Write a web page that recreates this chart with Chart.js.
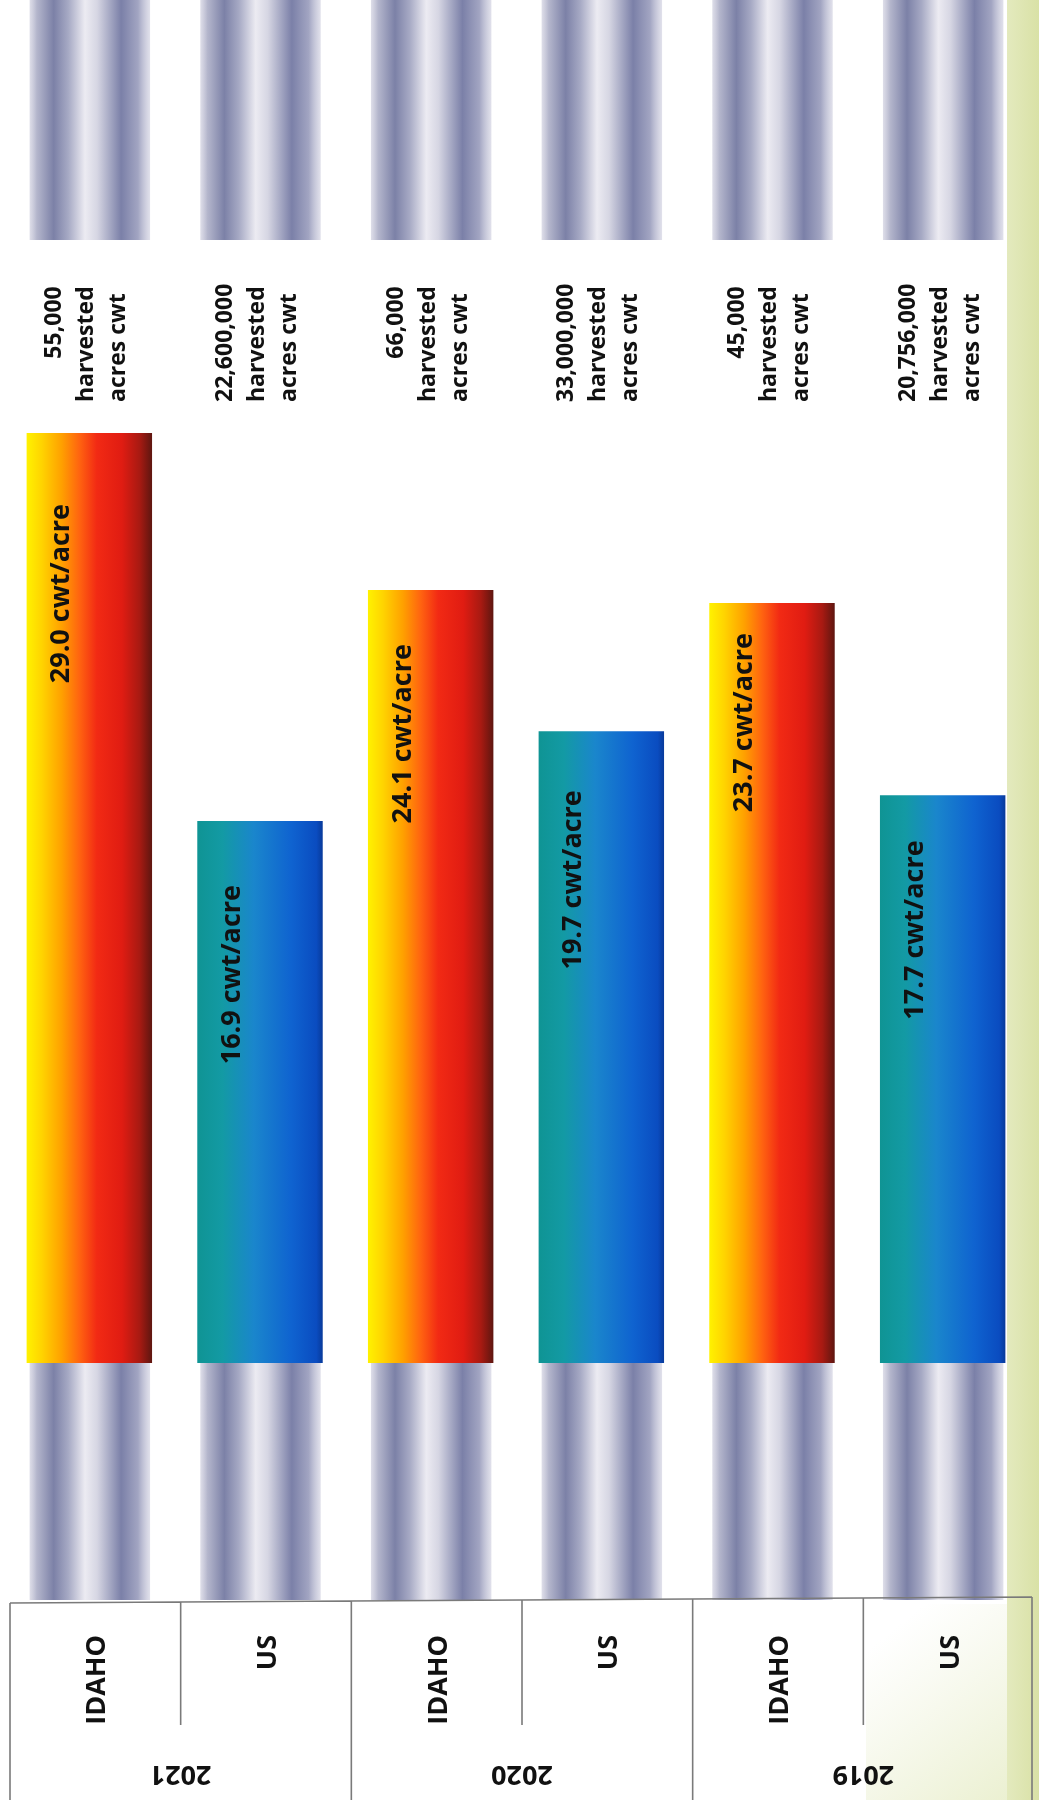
<!DOCTYPE html>
<html>
<head>
<meta charset="utf-8">
<script src="https://cdn.jsdelivr.net/npm/chart.js@4.4.1/dist/chart.umd.min.js"></script>
<style>
  html, body { margin: 0; padding: 0; background: #ffffff; }
  #wrap { width: 1039px; height: 1800px; position: relative; }
</style>
</head>
<body>
<div id="wrap"><canvas id="c" width="1039" height="1800"></canvas></div>
<script>
// ---- data ----
const regions = ['IDAHO', 'US', 'IDAHO', 'US', 'IDAHO', 'US'];
const years = ['2021', '2021', '2020', '2020', '2019', '2019'];
const yieldCwtPerAcre = [29.0, 16.9, 24.1, 19.7, 23.7, 17.7];
const harvestedFigures = ['55,000', '22,600,000', '66,000', '33,000,000', '45,000', '20,756,000'];
const harvestedWords = ['harvested', 'acres cwt'];
const yearGroups = ['2021', '2020', '2019'];

// ---- layout / style (not data) ----
const labelOffsets = [71, 64, 54, 59, 30, 45];
const FONT = '"Open Sans", "Liberation Sans", Arial, sans-serif';

function barGradient(ctx, left, right, isIdaho) {
  const g = ctx.createLinearGradient(left, 0, right, 0);
  if (isIdaho) {
    g.addColorStop(0.00, '#fff200');
    g.addColorStop(0.12, '#ffd400');
    g.addColorStop(0.28, '#ffa000');
    g.addColorStop(0.42, '#ff6410');
    g.addColorStop(0.56, '#f22a14');
    g.addColorStop(0.76, '#e01c12');
    g.addColorStop(0.90, '#a81a12');
    g.addColorStop(1.00, '#5e1610');
  } else {
    g.addColorStop(0.00, '#0f9494');
    g.addColorStop(0.20, '#139aa4');
    g.addColorStop(0.45, '#1a86cc');
    g.addColorStop(0.75, '#0f63d0');
    g.addColorStop(0.95, '#0a4cc0');
    g.addColorStop(1.00, '#083a9a');
  }
  return g;
}

function pipeGradient(ctx, left, right) {
  const g = ctx.createLinearGradient(left, 0, right, 0);
  g.addColorStop(0.00, 'rgba(200,200,218,0.6)');
  g.addColorStop(0.06, '#b4b6cc');
  g.addColorStop(0.20, '#7c81a7');
  g.addColorStop(0.32, '#a6a9c4');
  g.addColorStop(0.46, '#ecebf2');
  g.addColorStop(0.56, '#d6d6e3');
  g.addColorStop(0.76, '#7b80a8');
  g.addColorStop(0.90, '#a2a5c2');
  g.addColorStop(1.00, 'rgba(205,205,222,0.6)');
  return g;
}

const decoPlugin = {
  id: 'deco',
  beforeDraw(chart) {
    const ctx = chart.ctx;
    ctx.save();
    ctx.fillStyle = '#ffffff';
    ctx.fillRect(0, 0, chart.width, chart.height);
    // green page edge
    const gg = ctx.createLinearGradient(1005, 0, 1039, 0);
    gg.addColorStop(0, '#e4eabf');
    gg.addColorStop(1, '#d9e1a6');
    ctx.fillStyle = gg;
    ctx.fillRect(1007, 0, 32, chart.height);
    // greenish tint in bottom-right cell
    const gt = ctx.createLinearGradient(880, 1640, 1010, 1800);
    gt.addColorStop(0, 'rgba(225,232,190,0)');
    gt.addColorStop(1, 'rgba(222,230,178,0.6)');
    ctx.fillStyle = gt;
    ctx.fillRect(866, 1604, 141, 196);
    ctx.restore();
  },
  beforeDatasetsDraw(chart) {
    const ctx = chart.ctx;
    const meta = chart.getDatasetMeta(0);
    const area = chart.chartArea;
    ctx.save();
    meta.data.forEach((el) => {
      const l = el.x - el.width / 2 + 3;
      const r = el.x + el.width / 2 - 2;
      ctx.fillStyle = pipeGradient(ctx, l, r);
      ctx.fillRect(l, 0, r - l, 240);
      ctx.fillRect(l, area.bottom, r - l, 1600 - area.bottom);
    });
    ctx.restore();
  },
  afterDatasetsDraw(chart) {
    const ctx = chart.ctx;
    const meta = chart.getDatasetMeta(0);
    ctx.save();
    ctx.fillStyle = '#111111';
    meta.data.forEach((el, i) => {
      // value label inside bar
      ctx.save();
      ctx.font = 'bold 27px ' + FONT;
      ctx.translate(el.x - 20, el.y + labelOffsets[i]);
      ctx.rotate(-Math.PI / 2);
      ctx.textAlign = 'right';
      ctx.textBaseline = 'alphabetic';
      ctx.fillText(yieldCwtPerAcre[i].toFixed(1) + ' cwt/acre', 0, 0);
      ctx.restore();

      // harvested labels above bar
      ctx.font = 'bold 23px ' + FONT;
      const lines = [harvestedFigures[i]].concat(harvestedWords);
      const start = 402;
      const wHarv = ctx.measureText(harvestedWords[0]).width;
      lines.forEach((txt, k) => {
        ctx.save();
        const bx = el.x + (k - 1) * 32 + 4;
        const w = ctx.measureText(txt).width;
        let sy = start;
        if (k === 0 && w < wHarv) sy = start - wHarv + w;
        ctx.translate(bx, sy);
        ctx.rotate(-Math.PI / 2);
        ctx.textAlign = 'left';
        ctx.textBaseline = 'alphabetic';
        ctx.fillText(txt, 0, 0);
        ctx.restore();
      });
    });
    ctx.restore();
  },
  afterDraw(chart) {
    const ctx = chart.ctx;
    const xs = chart.scales.x;
    const n = regions.length;
    const cw = (xs.right - xs.left) / n;
    const shift = 6;
    const top = 1600;
    ctx.save();
    ctx.strokeStyle = '#7a7a7a';
    ctx.lineWidth = 1.6;
    const leftB = xs.left + shift;
    const rightB = xs.right + shift - 2;
    ctx.beginPath();
    ctx.moveTo(leftB, top + 3);
    ctx.lineTo(rightB, top - 3);
    ctx.moveTo(leftB, top + 3);
    ctx.lineTo(leftB, 1800);
    ctx.moveTo(rightB, top - 3);
    ctx.lineTo(rightB, 1800);
    for (let i = 1; i < n; i++) {
      const bx = xs.left + cw * i + shift;
      const yTop = top + 3 - 6 * (bx - leftB) / (rightB - leftB);
      ctx.moveTo(bx, yTop);
      ctx.lineTo(bx, i % 2 === 0 ? 1800 : 1725);
    }
    ctx.stroke();

    ctx.fillStyle = '#111111';
    // region labels
    ctx.font = 'bold 27px ' + FONT;
    regions.forEach((r, i) => {
      const cx = xs.getPixelForValue(i) + shift;
      ctx.save();
      ctx.translate(cx + 10, 1635);
      ctx.rotate(-Math.PI / 2);
      ctx.textAlign = 'right';
      ctx.textBaseline = 'alphabetic';
      ctx.fillText(r, 0, 0);
      ctx.restore();
    });
    // year labels (upside down)
    yearGroups.forEach((y, g) => {
      const cx = xs.left + cw * (2 * g + 1) + shift;
      ctx.save();
      ctx.translate(cx, 1774);
      ctx.rotate(Math.PI);
      ctx.textAlign = 'center';
      ctx.textBaseline = 'middle';
      ctx.fillText(y, 0, 0);
      ctx.restore();
    });
    ctx.restore();
  }
};

new Chart(document.getElementById('c'), {
  type: 'bar',
  data: {
    labels: regions.map((r, i) => r + ' ' + years[i]),
    datasets: [{
      data: yieldCwtPerAcre,
      barPercentage: 0.735,
      categoryPercentage: 1,
      borderWidth: 0,
      backgroundColor: (c) => {
        const chart = c.chart;
        if (!chart.chartArea || !chart.scales.x) return '#cccccc';
        const xs = chart.scales.x;
        const cw = (xs.right - xs.left) / regions.length;
        const w = cw * 0.735;
        const x = xs.getPixelForValue(c.dataIndex);
        return barGradient(chart.ctx, x - w / 2, x + w / 2, regions[c.dataIndex] === 'IDAHO');
      }
    }]
  },
  options: {
    responsive: false,
    animation: false,
    devicePixelRatio: 1,
    layout: { padding: { left: 4, right: 11, top: 0, bottom: 437 } },
    scales: {
      x: { display: false, offset: true, grid: { display: false } },
      y: { display: false, min: 0, max: 42.5, grid: { display: false } }
    },
    plugins: {
      legend: { display: false },
      tooltip: { enabled: false },
      title: { display: false }
    }
  },
  plugins: [decoPlugin]
});
</script>
</body>
</html>
